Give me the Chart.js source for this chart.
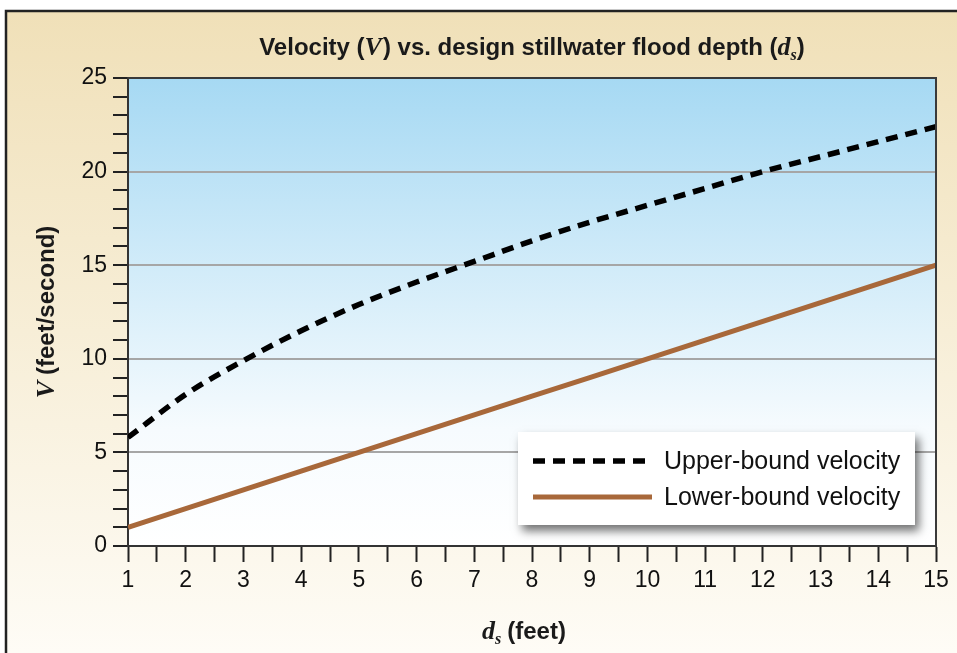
<!DOCTYPE html>
<html>
<head>
<meta charset="utf-8">
<script src="https://cdn.jsdelivr.net/npm/chart.js@4/dist/chart.umd.min.js"></script>
<style>
  html, body { margin: 0; padding: 0; background: #fff; }
  #wrap { width: 957px; height: 653px; }
</style>
</head>
<body>
<div id="wrap"><canvas id="chart" width="957" height="653"></canvas></div>
<script>
const depths = [1, 2, 3, 4, 5, 6, 7, 8, 9, 10, 11, 12, 13, 14, 15];
const upperBound = [5.8, 8.1, 9.9, 11.5, 12.9, 14.1, 15.2, 16.3, 17.3, 18.2, 19.1, 20.0, 20.8, 21.6, 22.4];
const lowerBound = [1, 2, 3, 4, 5, 6, 7, 8, 9, 10, 11, 12, 13, 14, 15];
const seriesLabels = ['Upper-bound velocity', 'Lower-bound velocity'];

const SANS = '"Liberation Sans", Arial, sans-serif';
const SERIF = '"Liberation Serif", "Times New Roman", serif';
const BROWN = '#a8683a';

function toPoints(xs, ys) {
    return xs.map((x, i) => ({ x: x, y: ys[i] }));
}

// draws runs of text with mixed fonts, centred on cx
function drawRuns(ctx, runs, cx, y) {
    let total = 0;
    runs.forEach(r => { ctx.font = r.font; total += ctx.measureText(r.text).width + (r.dx || 0); });
    let x = cx - total / 2;
    runs.forEach(r => {
        ctx.font = r.font;
        ctx.fillText(r.text, x, y + (r.dy || 0));
        x += ctx.measureText(r.text).width + (r.dx || 0);
    });
}

const backdrop = {
    id: 'backdrop',
    beforeDraw(chart) {
        const ctx = chart.ctx;
        const a = chart.chartArea;
        ctx.save();
        ctx.fillStyle = '#ffffff';
        ctx.fillRect(0, 0, chart.width, chart.height);
        const g = ctx.createLinearGradient(0, 10, 0, chart.height);
        g.addColorStop(0, '#f0e0b8');
        g.addColorStop(1, '#fefcf6');
        ctx.fillStyle = g;
        ctx.fillRect(5, 10, chart.width, chart.height);
        ctx.strokeStyle = '#222';
        ctx.lineWidth = 2.5;
        ctx.beginPath();
        ctx.moveTo(6, chart.height + 5);
        ctx.lineTo(6, 11);
        ctx.lineTo(chart.width + 5, 11);
        ctx.stroke();

        const pg = ctx.createLinearGradient(0, a.top, 0, a.bottom);
        pg.addColorStop(0, '#a6d9f3');
        pg.addColorStop(0.75, '#f6fbfe');
        pg.addColorStop(1, '#ffffff');
        ctx.fillStyle = pg;
        ctx.fillRect(a.left, a.top, a.right - a.left, a.bottom - a.top);
        ctx.restore();
    },
    afterDraw(chart) {
        const ctx = chart.ctx;
        const a = chart.chartArea;
        ctx.save();
        // frame top and right
        ctx.strokeStyle = '#3a3a3a';
        ctx.lineWidth = 2;
        ctx.beginPath();
        ctx.moveTo(a.left, a.top);
        ctx.lineTo(a.right, a.top);
        ctx.lineTo(a.right, a.bottom);
        ctx.stroke();

        // title
        ctx.fillStyle = '#1a1a1a';
        ctx.textBaseline = 'alphabetic';
        ctx.textAlign = 'left';
        const b = 'bold 24px ' + SANS;
        const it = 'italic bold 26px ' + SERIF;
        const sub = 'italic bold 16px ' + SERIF;
        drawRuns(ctx, [
            { text: 'Velocity (', font: b },
            { text: 'V', font: it, dx: 1 },
            { text: ') vs. design stillwater flood depth (', font: b },
            { text: 'd', font: it },
            { text: 's', font: sub, dy: 5 },
            { text: ')', font: b }
        ], (a.left + a.right) / 2, 55);

        // x title
        drawRuns(ctx, [
            { text: 'd', font: it },
            { text: 's', font: sub, dy: 5, dx: 6 },
            { text: '(feet)', font: b }
        ], (a.left + a.right) / 2 - 8, 639);

        // y title
        ctx.save();
        ctx.translate(54, (a.top + a.bottom) / 2);
        ctx.rotate(-Math.PI / 2);
        drawRuns(ctx, [
            { text: 'V', font: it, dx: 6 },
            { text: '(feet/second)', font: b }
        ], 0, 0);
        ctx.restore();

        // legend box
        const lx = 518, ly = 432, lw = 397, lh = 93;
        ctx.save();
        ctx.shadowColor = 'rgba(0,0,0,0.55)';
        ctx.shadowBlur = 9;
        ctx.shadowOffsetX = 4;
        ctx.shadowOffsetY = 6;
        ctx.fillStyle = '#ffffff';
        ctx.fillRect(lx, ly, lw, lh);
        ctx.restore();

        const sets = chart.data.datasets;
        const rows = [461, 497];
        sets.forEach((ds, i) => {
            ctx.save();
            ctx.strokeStyle = ds.borderColor;
            ctx.lineWidth = ds.borderWidth;
            ctx.setLineDash(ds.borderDash || []);
            ctx.lineCap = 'butt';
            ctx.beginPath();
            ctx.moveTo(533, rows[i]);
            ctx.lineTo(652, rows[i]);
            ctx.stroke();
            ctx.restore();
            ctx.fillStyle = '#111';
            ctx.font = '25px ' + SANS;
            ctx.textBaseline = 'middle';
            ctx.fillText(ds.label, 664, rows[i] + 1);
        });
        ctx.restore();
    }
};

new Chart(document.getElementById('chart'), {
    type: 'line',
    data: {
        datasets: [
            {
                label: seriesLabels[0],
                data: toPoints(depths, upperBound),
                borderColor: '#000000',
                borderWidth: 5.5,
                borderDash: [12, 8],
                pointRadius: 0,
                cubicInterpolationMode: 'monotone',
                fill: false
            },
            {
                label: seriesLabels[1],
                data: toPoints(depths, lowerBound),
                borderColor: BROWN,
                borderWidth: 5,
                pointRadius: 0,
                fill: false
            }
        ]
    },
    options: {
        responsive: false,
        animation: false,
        devicePixelRatio: 1,
        layout: { padding: { left: 0, top: 78, right: 21, bottom: 0 } },
        plugins: { legend: { display: false }, tooltip: { enabled: false }, title: { display: false } },
        scales: {
            x: {
                type: 'linear',
                min: 1,
                max: 15,
                afterFit(scale) { scale.height = 107; },
                afterBuildTicks(scale) {
                    const t = [];
                    for (let v = 1; v <= 15; v += 0.5) t.push({ value: v });
                    scale.ticks = t;
                },
                ticks: {
                    autoSkip: false,
                    maxRotation: 0,
                    padding: 5,
                    color: '#111',
                    font: { family: SANS, size: 23 },
                    callback(value) { return Number.isInteger(value) ? String(value) : ''; }
                },
                grid: {
                    drawOnChartArea: false,
                    tickLength: 16,
                    tickWidth: 2,
                    tickColor: '#222'
                },
                border: { color: '#333', width: 2 }
            },
            y: {
                min: 0,
                max: 25,
                afterFit(scale) { scale.width = 128; },
                afterBuildTicks(scale) {
                    const t = [];
                    for (let v = 0; v <= 25; v += 1) t.push({ value: v });
                    scale.ticks = t;
                },
                ticks: {
                    autoSkip: false,
                    padding: 6,
                    color: '#111',
                    font: { family: SANS, size: 23 },
                    callback(value) { return value % 5 === 0 ? String(value) : ''; }
                },
                grid: {
                    color(c) { return (c.tick && c.tick.value % 5 === 0 && c.tick.value > 0 && c.tick.value < 25) ? '#a6a6a6' : 'rgba(0,0,0,0)'; },
                    lineWidth: 2,
                    tickLength: 15,
                    tickWidth: 2,
                    tickColor: '#222'
                },
                border: { color: '#333', width: 2 }
            }
        }
    },
    plugins: [backdrop]
});
</script>
</body>
</html>
